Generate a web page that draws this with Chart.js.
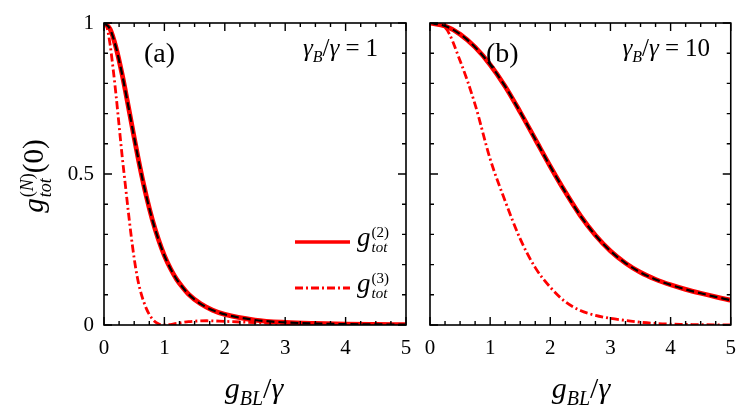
<!DOCTYPE html>
<html>
<head>
<meta charset="utf-8">
<script src="https://cdn.jsdelivr.net/npm/chart.js@4.4.1/dist/chart.umd.min.js"></script>
<style>
  body { margin: 0; background: #fff; }
  #wrap { position: relative; width: 747px; height: 417px; overflow: hidden; font-family: "Liberation Serif", serif; color: #000; }
  canvas { position: absolute; left: 0; top: 0; }
  .t { position: absolute; white-space: nowrap; line-height: 1; }
  .ss { display: inline-flex; flex-direction: column; vertical-align: middle; line-height: 1; }
  .ss span { display: block; }
  sub, sup { line-height: 0; }
  .eq { margin: 0 6px; }
</style>
</head>
<body>
<div id="wrap">
  <canvas id="chartA" width="747" height="417"></canvas>
  <canvas id="chartB" width="747" height="417"></canvas>

  <div class="t" style="left:144px;top:39px;font-size:28px">(a)</div>
  <div class="t" style="left:486px;top:39px;font-size:28px">(b)</div>

  <div class="t" style="right:369px;top:35px;font-size:25px"><i>γ</i><sub style="font-size:16px"><i>B</i></sub>/<i>γ</i><span class="eq">=</span>1</div>
  <div class="t" style="right:37px;top:35px;font-size:25px"><i>γ</i><sub style="font-size:16px"><i>B</i></sub>/<i>γ</i><span class="eq">=</span>10</div>

  <svg style="position:absolute;left:0;top:0" width="747" height="417">
    <line x1="295" y1="242" x2="350" y2="242" stroke="#ff0000" stroke-width="3.5"/>
    <line x1="295" y1="288" x2="350" y2="288" stroke="#ff0000" stroke-width="3" stroke-dasharray="8 3 2 3"/>
  </svg>
  <div class="t" style="left:357px;top:224px;font-size:27px"><i>g</i><span class="ss" style="font-size:15px;margin-left:1px"><span>(2)</span><span><i>tot</i></span></span></div>
  <div class="t" style="left:357px;top:270px;font-size:27px"><i>g</i><span class="ss" style="font-size:15px;margin-left:1px"><span>(3)</span><span><i>tot</i></span></span></div>

  <div class="t" style="left:254px;top:373px;font-size:30px;transform:translateX(-50%)"><i>g</i><sub style="font-size:20px"><i>BL</i></sub>/<i>γ</i></div>
  <div class="t" style="left:581px;top:373px;font-size:30px;transform:translateX(-50%)"><i>g</i><sub style="font-size:20px"><i>BL</i></sub>/<i>γ</i></div>

  <div class="t" style="left:36px;top:176px;font-size:29px;transform:translate(-50%,-50%) rotate(-90deg)"><i>g</i><span class="ss" style="font-size:18px;margin-left:1px"><span>(<i>N</i>)</span><span><i>tot</i></span></span>(0)</div>
</div>

<script>
// tick positions / labels
const xTicks = [0, 1, 2, 3, 4, 5];
const yTicks = [0, 0.5, 1];
const yTickLabels = ["0", "0.5", "1"];

// panel (a): gamma_B / gamma = 1
const xA2 = [0, 0.1, 0.2, 0.3, 0.4, 0.5, 0.6, 0.7, 0.8, 0.9, 1.0, 1.1, 1.2, 1.3, 1.4, 1.6, 1.8, 2.0, 2.5, 3.0, 3.5, 4.0, 4.5, 5.0];
const g2A = [1.0, 0.98, 0.918, 0.83, 0.727, 0.62, 0.518, 0.427, 0.349, 0.284, 0.23, 0.187, 0.152, 0.125, 0.102, 0.07, 0.049, 0.035, 0.0165, 0.0086, 0.005, 0.003, 0.002, 0.0013];
const xA3 = [0, 0.05, 0.1, 0.15, 0.2, 0.25, 0.3, 0.35, 0.4, 0.45, 0.5, 0.55, 0.6, 0.7, 0.8, 0.9, 1.0, 1.2, 1.4, 1.7, 2.0, 2.5, 3.0, 3.5, 4.0, 5.0];
const g3A = [1.0, 0.985, 0.93, 0.85, 0.76, 0.66, 0.56, 0.47, 0.38, 0.295, 0.22, 0.16, 0.115, 0.055, 0.02, 0.004, 0, 0.005, 0.011, 0.014, 0.012, 0.008, 0.004, 0.002, 0.001, 0];

// panel (b): gamma_B / gamma = 10
const xB = [0, 0.25, 0.5, 0.75, 1.0, 1.25, 1.5, 1.75, 2.0, 2.25, 2.5, 2.75, 3.0, 3.25, 3.5, 3.75, 4.0, 4.25, 4.5, 4.75, 5.0];
const g2B = [1.0, 0.99, 0.963, 0.92, 0.862, 0.79, 0.705, 0.615, 0.525, 0.44, 0.362, 0.297, 0.245, 0.205, 0.174, 0.151, 0.133, 0.118, 0.105, 0.093, 0.082];
const g3B = [1.0, 0.985, 0.875, 0.73, 0.55, 0.41, 0.285, 0.19, 0.125, 0.077, 0.048, 0.032, 0.022, 0.015, 0.009, 0.005, 0.003, 0.002, 0.001, 0.0005, 0];

const RED = "#ff0000";
const pts = (xs, ys) => xs.map((x, i) => ({ x, y: ys[i] }));

// box + inward ticks on all four sides
const frameTicks = {
  id: "frameTicks",
  afterDatasetsDraw(chart) {
    const { ctx, chartArea: a, scales: { x, y } } = chart;
    ctx.save();
    ctx.strokeStyle = "#000";
    ctx.lineWidth = 1.4;
    ctx.beginPath();
    for (let i = 0; i <= 20; i++) {
      const px = x.getPixelForValue(i * 0.25), len = i % 4 === 0 ? 8 : 4;
      ctx.moveTo(px, a.bottom); ctx.lineTo(px, a.bottom - len);
      ctx.moveTo(px, a.top); ctx.lineTo(px, a.top + len);
    }
    for (let i = 0; i <= 10; i++) {
      const py = y.getPixelForValue(i / 10), len = i % 5 === 0 ? 8 : 4;
      ctx.moveTo(a.left, py); ctx.lineTo(a.left + len, py);
      ctx.moveTo(a.right, py); ctx.lineTo(a.right - len, py);
    }
    ctx.stroke();
    ctx.lineWidth = 1.6;
    ctx.strokeRect(a.left, a.top, a.right - a.left, a.bottom - a.top);
    ctx.restore();
  }
};

function panel(id, xs2, ys2, xs3, ys3, pad, showY) {
  return new Chart(document.getElementById(id), {
    type: "line",
    data: {
      datasets: [
        { data: pts(xs2, ys2), borderColor: "#000", borderWidth: 2.2, borderDash: [8, 4], pointRadius: 0, cubicInterpolationMode: "monotone", fill: false },
        { data: pts(xs2, ys2), borderColor: RED, borderWidth: 4.8, pointRadius: 0, cubicInterpolationMode: "monotone", fill: false },
        { data: pts(xs3, ys3), borderColor: RED, borderWidth: 2.8, borderDash: [8, 3, 2, 3], pointRadius: 0, cubicInterpolationMode: "monotone", fill: false }
      ]
    },
    options: {
      responsive: false,
      animation: false,
      devicePixelRatio: 1,
      layout: { padding: pad },
      plugins: { legend: { display: false }, tooltip: { enabled: false } },
      scales: {
        x: {
          type: "linear", min: 0, max: 5,
          afterBuildTicks: s => { s.ticks = xTicks.map(v => ({ value: v })); },
          afterFit: s => { s.height = 40; },
          grid: { display: false, drawTicks: false },
          border: { display: false },
          ticks: { padding: 11, color: "#000", font: { family: "Liberation Serif", size: 21 } }
        },
        y: {
          min: 0, max: 1,
          afterBuildTicks: s => { s.ticks = yTicks.map(v => ({ value: v })); },
          afterFit: s => { s.width = showY ? 40 : 0; },
          grid: { display: false, drawTicks: false },
          border: { display: false },
          ticks: {
            display: showY, padding: 10, color: "#000", font: { family: "Liberation Serif", size: 21 },
            callback: v => yTickLabels[yTicks.indexOf(v)]
          }
        }
      }
    },
    plugins: [frameTicks]
  });
}

panel("chartA", xA2, g2A, xA3, g3A, { left: 64, right: 341, top: 23, bottom: 52 }, true);
panel("chartB", xB, g2B, xB, g3B, { left: 430, right: 14, top: 23, bottom: 52 }, false);
</script>
</body>
</html>
